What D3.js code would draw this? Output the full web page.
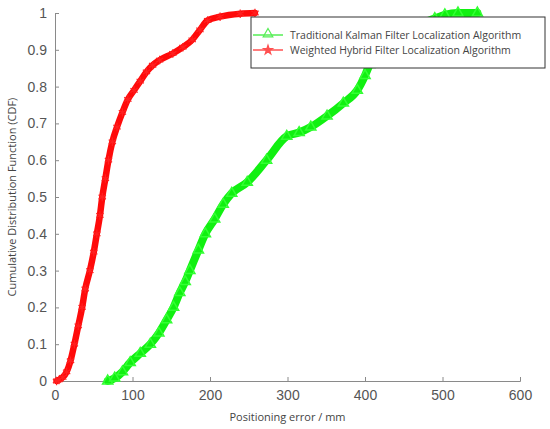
<!DOCTYPE html>
<html>
<head>
<meta charset="utf-8">
<script src="https://cdn.jsdelivr.net/npm/d3@7"></script>
<style>
  body { margin: 0; background: #fff; }
  svg { display: block; }
</style>
</head>
<body>
<svg id="chart" width="550" height="429"></svg>
<script>
// positioning error (mm) vs CDF
const kalmanErr = [68, 77, 87, 97, 110, 123, 134, 144, 153, 161, 168, 174, 185, 194, 206, 217, 228, 248, 273, 299, 315, 330, 351, 372, 390, 400, 406, 415, 430, 450, 470, 490, 503, 520, 545];
const kalmanCdf = [0, 0.008, 0.025, 0.05, 0.075, 0.10, 0.13, 0.166, 0.2, 0.24, 0.27, 0.30, 0.356, 0.40, 0.44, 0.48, 0.51, 0.54, 0.60, 0.665, 0.675, 0.69, 0.72, 0.755, 0.79, 0.83, 0.86, 0.89, 0.92, 0.95, 0.97, 0.985, 0.995, 1.0, 1.0];

const hybridErr = [2, 5, 10, 15, 20, 25, 30, 35, 39, 45, 50, 54, 58, 61, 65, 69, 74, 80, 87, 94, 102, 110, 118, 126, 135, 152, 165, 177, 187, 197, 213, 239, 258];
const hybridCdf = [0, 0.003, 0.01, 0.025, 0.055, 0.1, 0.15, 0.2, 0.25, 0.3, 0.35, 0.4, 0.45, 0.5, 0.55, 0.6, 0.65, 0.69, 0.73, 0.765, 0.79, 0.815, 0.84, 0.858, 0.872, 0.89, 0.907, 0.927, 0.954, 0.98, 0.99, 0.998, 1.0];

const xTicks = [0, 100, 200, 300, 400, 500, 600];
const yTicks = [0, 0.1, 0.2, 0.3, 0.4, 0.5, 0.6, 0.7, 0.8, 0.9, 1];
const seriesNames = ["Traditional Kalman Filter Localization Algorithm", "Weighted Hybrid Filter Localization Algorithm"];

const svg = d3.select("#chart");
const margin = { left: 55, right: 30, top: 13, bottom: 48 };
const W = 550, H = 429;

const x = d3.scaleLinear().domain([0, 600]).range([margin.left, W - margin.right]);
const y = d3.scaleLinear().domain([0, 1]).range([H - margin.bottom, margin.top]);

// axes
const xAxis = svg.append("g")
    .attr("transform", `translate(0,${y(0)})`)
    .call(d3.axisBottom(x).tickValues(xTicks).tickSizeInner(-4).tickSizeOuter(-4).tickPadding(9));
const yAxis = svg.append("g")
    .attr("transform", `translate(${x(0)},0)`)
    .call(d3.axisLeft(y).tickValues(yTicks).tickFormat(d3.format("~g")).tickSizeInner(-4).tickSizeOuter(-4).tickPadding(8));

[xAxis, yAxis].forEach(a => {
    a.select(".domain").attr("stroke", "#8a8a8a");
    a.selectAll(".tick line").attr("stroke", "#8a8a8a");
    a.selectAll(".tick text")
        .attr("fill", "#555")
        .style("font-family", "'Liberation Sans', Arial, sans-serif")
        .style("font-size", "14px");
});

// axis titles
svg.append("text")
    .attr("x", (x(0) + x(600)) / 2)
    .attr("y", 421)
    .attr("text-anchor", "middle")
    .attr("fill", "#444")
    .style("font-family", "'Open Sans', sans-serif")
    .style("font-size", "11px")
    .text("Positioning error / mm");

svg.append("text")
    .attr("transform", `translate(16,${y(0.5)}) rotate(-90)`)
    .attr("text-anchor", "middle")
    .attr("fill", "#444")
    .style("font-family", "'Open Sans', sans-serif")
    .style("font-size", "11px")
    .text("Cumulative Distribution Function (CDF)");

// curves
const line = d3.line().x(d => x(d[0])).y(d => y(d[1])).curve(d3.curveMonotoneX);
const kalman = kalmanErr.map((e, i) => [e, kalmanCdf[i]]);
const hybrid = hybridErr.map((e, i) => [e, hybridCdf[i]]);

const plot = svg.append("g");

plot.append("path")
    .datum(kalman)
    .attr("d", line)
    .attr("fill", "none")
    .attr("stroke", "#11f011")
    .attr("stroke-width", 8)
    .attr("stroke-linejoin", "round")
    .attr("stroke-linecap", "round");

plot.selectAll(".tri")
    .data(kalman)
    .join("path")
    .attr("class", "tri")
    .attr("transform", d => `translate(${x(d[0])},${y(d[1])})`)
    .attr("d", d3.symbol(d3.symbolTriangle, 45))
    .attr("fill", "none")
    .attr("stroke", "#33ff33")
    .attr("stroke-width", 1.5);

plot.append("path")
    .datum(hybrid)
    .attr("d", line)
    .attr("fill", "none")
    .attr("stroke", "#ff0a0a")
    .attr("stroke-width", 6.5)
    .attr("stroke-linejoin", "round")
    .attr("stroke-linecap", "round");

plot.selectAll(".star")
    .data(hybrid)
    .join("path")
    .attr("class", "star")
    .attr("transform", d => `translate(${x(d[0])},${y(d[1])})`)
    .attr("d", d3.symbol(d3.symbolAsterisk, 50))
    .attr("fill", "none")
    .attr("stroke", "#ff2020")
    .attr("stroke-width", 1.2);

// legend
const legend = svg.append("g").attr("transform", "translate(251,17)");
legend.append("rect")
    .attr("width", 294).attr("height", 51)
    .attr("fill", "#fff").attr("stroke", "#333").attr("stroke-width", 1);

const legendColors = ["#55ee55", "#ff5050"];
seriesNames.forEach((name, i) => {
    const ly = 18 + i * 15;
    legend.append("line")
        .attr("x1", 2).attr("x2", 32).attr("y1", ly).attr("y2", ly)
        .attr("stroke", legendColors[i]).attr("stroke-width", 1.5);
    legend.append("path")
        .attr("transform", `translate(17,${ly - (i === 0 ? 1 : 0)})`)
        .attr("d", i === 0 ? d3.symbol(d3.symbolTriangle, 40) : d3.symbol(d3.symbolStar, 25))
        .attr("fill", i === 0 ? "none" : legendColors[i])
        .attr("stroke", legendColors[i]).attr("stroke-width", 1.2);
    legend.append("text")
        .attr("x", 39).attr("y", ly + 4)
        .attr("fill", "#444")
        .style("font-family", "'Open Sans', sans-serif")
        .style("font-size", "10.5px")
        .text(name);
});
</script>
</body>
</html>
